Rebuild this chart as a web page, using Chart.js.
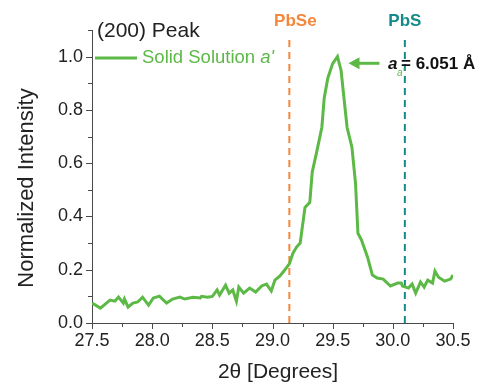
<!DOCTYPE html>
<html>
<head>
<meta charset="utf-8">
<script src="https://cdn.jsdelivr.net/npm/chart.js@4/dist/chart.umd.min.js"></script>
<style>
  html, body { margin: 0; padding: 0; background: #fff; }
  #wrap { width: 481px; height: 384px; position: relative; }
</style>
</head>
<body>
<div id="wrap"><canvas id="xrd"></canvas></div>
<script>
// (200) peak, normalized intensity vs 2theta
const twoTheta = [
  27.50, 27.57, 27.61, 27.65, 27.69, 27.72, 27.76, 27.77, 27.80, 27.84,
  27.88, 27.92, 27.97, 28.01, 28.06, 28.12, 28.17, 28.23, 28.27, 28.34,
  28.40, 28.41, 28.46, 28.50, 28.54, 28.56, 28.61, 28.64, 28.67, 28.70,
  28.72, 28.76, 28.81, 28.86, 28.91, 28.95, 28.99, 29.02, 29.06, 29.10,
  29.14, 29.17, 29.20, 29.23, 29.27, 29.31, 29.33, 29.37, 29.41, 29.43,
  29.46, 29.50, 29.54, 29.57, 29.59, 29.62, 29.66, 29.69, 29.71, 29.74,
  29.79, 29.83, 29.87, 29.92, 29.98, 30.04, 30.07, 30.08, 30.13, 30.16,
  30.19, 30.23, 30.26, 30.29, 30.33, 30.35, 30.38, 30.43, 30.48, 30.50
];
const intensity = [
  0.075, 0.056, 0.071, 0.086, 0.082, 0.097, 0.075, 0.090, 0.060, 0.075,
  0.079, 0.097, 0.067, 0.094, 0.101, 0.075, 0.090, 0.097, 0.090, 0.097,
  0.094, 0.100, 0.097, 0.100, 0.124, 0.105, 0.142, 0.112, 0.124, 0.082,
  0.135, 0.112, 0.131, 0.116, 0.139, 0.146, 0.120, 0.161, 0.176, 0.198,
  0.222, 0.262, 0.285, 0.300, 0.434, 0.453, 0.566, 0.648, 0.734, 0.846,
  0.920, 0.974, 1.000, 0.948, 0.861, 0.734, 0.660, 0.524, 0.337, 0.311,
  0.247, 0.180, 0.169, 0.165, 0.139, 0.150, 0.150, 0.139, 0.131, 0.146,
  0.112, 0.154, 0.135, 0.161, 0.150, 0.195, 0.172, 0.157, 0.165, 0.180
];

// reference positions
const refNames = ["PbSe", "PbS"];
const refPos = [29.14, 30.10];
const refColors = ["#f5873a", "#148a8a"];
const refTop = 1.08;

const peakPos = 29.54;
const latticeLabel = "= 6.051 Å";

const green = "#5cb946";
const axisColor = "#4a4a4a";
const textColor = "#222";
const fam = "'Liberation Sans', Arial, sans-serif";

const datasets = [{
  label: "Solid Solution a'",
  data: twoTheta.map((x, i) => ({ x: x, y: intensity[i] })),
  borderColor: green,
  borderWidth: 3,
  pointRadius: 0,
  tension: 0,
  order: 0
}];
refPos.forEach((p, i) => {
  datasets.push({
    label: refNames[i],
    data: [{ x: p, y: 0 }, { x: p, y: refTop }],
    borderColor: refColors[i],
    borderWidth: 2,
    borderDash: [7, 5],
    pointRadius: 0,
    order: 1
  });
});

const extras = {
  id: "extras",
  afterDraw(chart) {
    const ctx = chart.ctx;
    const xs = chart.scales.x, ys = chart.scales.y;
    const area = chart.chartArea;
    ctx.save();

    // tick marks, major and minor
    ctx.strokeStyle = axisColor;
    ctx.lineWidth = 1;
    for (let v = 27.5; v <= 30.5001; v += 0.25) {
      const px = Math.round(xs.getPixelForValue(v)) + 0.5;
      const major = Math.round(v * 4) % 2 === 0;
      ctx.beginPath();
      ctx.moveTo(px, area.bottom);
      ctx.lineTo(px, area.bottom + (major ? 6 : 4));
      ctx.stroke();
    }
    for (let v = 0; v <= 1.1001; v += 0.1) {
      const py = Math.round(ys.getPixelForValue(v)) + 0.5;
      const major = Math.round(v * 10) % 2 === 0;
      ctx.beginPath();
      ctx.moveTo(area.left, py);
      ctx.lineTo(area.left - (major ? 6 : 4), py);
      ctx.stroke();
    }

    // axis titles
    ctx.fillStyle = textColor;
    ctx.textAlign = "center";
    ctx.textBaseline = "middle";
    ctx.font = "21px " + fam;
    ctx.fillText("2θ [Degrees]", 278, 372);
    ctx.save();
    ctx.translate(27, 188);
    ctx.rotate(-Math.PI / 2);
    ctx.font = "22px " + fam;
    ctx.fillText("Normalized Intensity", 0, 0);
    ctx.restore();

    // reference labels
    ctx.font = "bold 17px " + fam;
    const offs = [6, 0];
    refPos.forEach((p, i) => {
      ctx.fillStyle = refColors[i];
      ctx.fillText(refNames[i], xs.getPixelForValue(p) + offs[i], 21);
    });

    // panel title
    ctx.fillStyle = textColor;
    ctx.textAlign = "left";
    ctx.font = "21px " + fam;
    ctx.fillText("(200) Peak", 97, 31);

    // legend entry
    ctx.strokeStyle = green;
    ctx.lineWidth = 3;
    ctx.beginPath();
    ctx.moveTo(95, 58);
    ctx.lineTo(137, 58);
    ctx.stroke();
    ctx.fillStyle = green;
    ctx.font = "18.5px " + fam;
    const t1 = "Solid Solution ";
    ctx.fillText(t1, 142, 58);
    const w1 = ctx.measureText(t1).width;
    ctx.font = "italic 18.5px " + fam;
    ctx.fillText("a'", 142 + w1, 58);

    // arrow to the peak
    const tipX = xs.getPixelForValue(peakPos) + 11;
    const ay = ys.getPixelForValue(0.975);
    ctx.strokeStyle = green;
    ctx.fillStyle = green;
    ctx.lineWidth = 3;
    ctx.beginPath();
    ctx.moveTo(tipX + 8, ay);
    ctx.lineTo(tipX + 31, ay);
    ctx.stroke();
    ctx.beginPath();
    ctx.moveTo(tipX, ay);
    ctx.lineTo(tipX + 11, ay - 6);
    ctx.lineTo(tipX + 11, ay + 6);
    ctx.closePath();
    ctx.fill();

    // lattice parameter label
    ctx.fillStyle = "#111";
    ctx.font = "italic bold 17px " + fam;
    ctx.fillText("a", 388, ay + 1);
    ctx.fillStyle = green;
    ctx.font = "italic 10px " + fam;
    ctx.fillText("a'", 397, ay + 10);
    ctx.fillStyle = "#111";
    ctx.font = "bold 17px " + fam;
    ctx.fillText(latticeLabel, 401, ay + 1);

    ctx.restore();
  }
};

new Chart(document.getElementById("xrd"), {
  type: "line",
  data: { datasets: datasets },
  options: {
    responsive: true,
    maintainAspectRatio: false,
    animation: false,
    layout: { padding: { top: 30, right: 28, left: 0, bottom: 0 } },
    plugins: {
      legend: { display: false },
      tooltip: { enabled: false }
    },
    scales: {
      x: {
        type: "linear",
        min: 27.5,
        max: 30.5,
        grid: { display: false, drawTicks: true, tickLength: 6 },
        border: { display: true, color: axisColor, width: 1 },
        ticks: {
          stepSize: 0.25,
          autoSkip: false,
          maxRotation: 0,
          padding: 1,
          color: textColor,
          font: { family: fam, size: 18 },
          callback: (v) => (Math.round(v * 4) % 2 === 0 ? v.toFixed(1) : "")
        },
        afterFit: (s) => { s.height = 61; }
      },
      y: {
        min: 0,
        max: 1.1,
        grid: { display: false, drawTicks: true, tickLength: 6 },
        border: { display: true, color: axisColor, width: 1 },
        ticks: {
          stepSize: 0.1,
          autoSkip: false,
          padding: 3,
          color: textColor,
          font: { family: fam, size: 18 },
          callback: (v) => (Math.round(v * 10) % 2 === 0 && v < 1.05 ? v.toFixed(1) : "")
        },
        afterFit: (s) => { s.width = 92; }
      }
    }
  },
  plugins: [extras]
});
</script>
</body>
</html>
